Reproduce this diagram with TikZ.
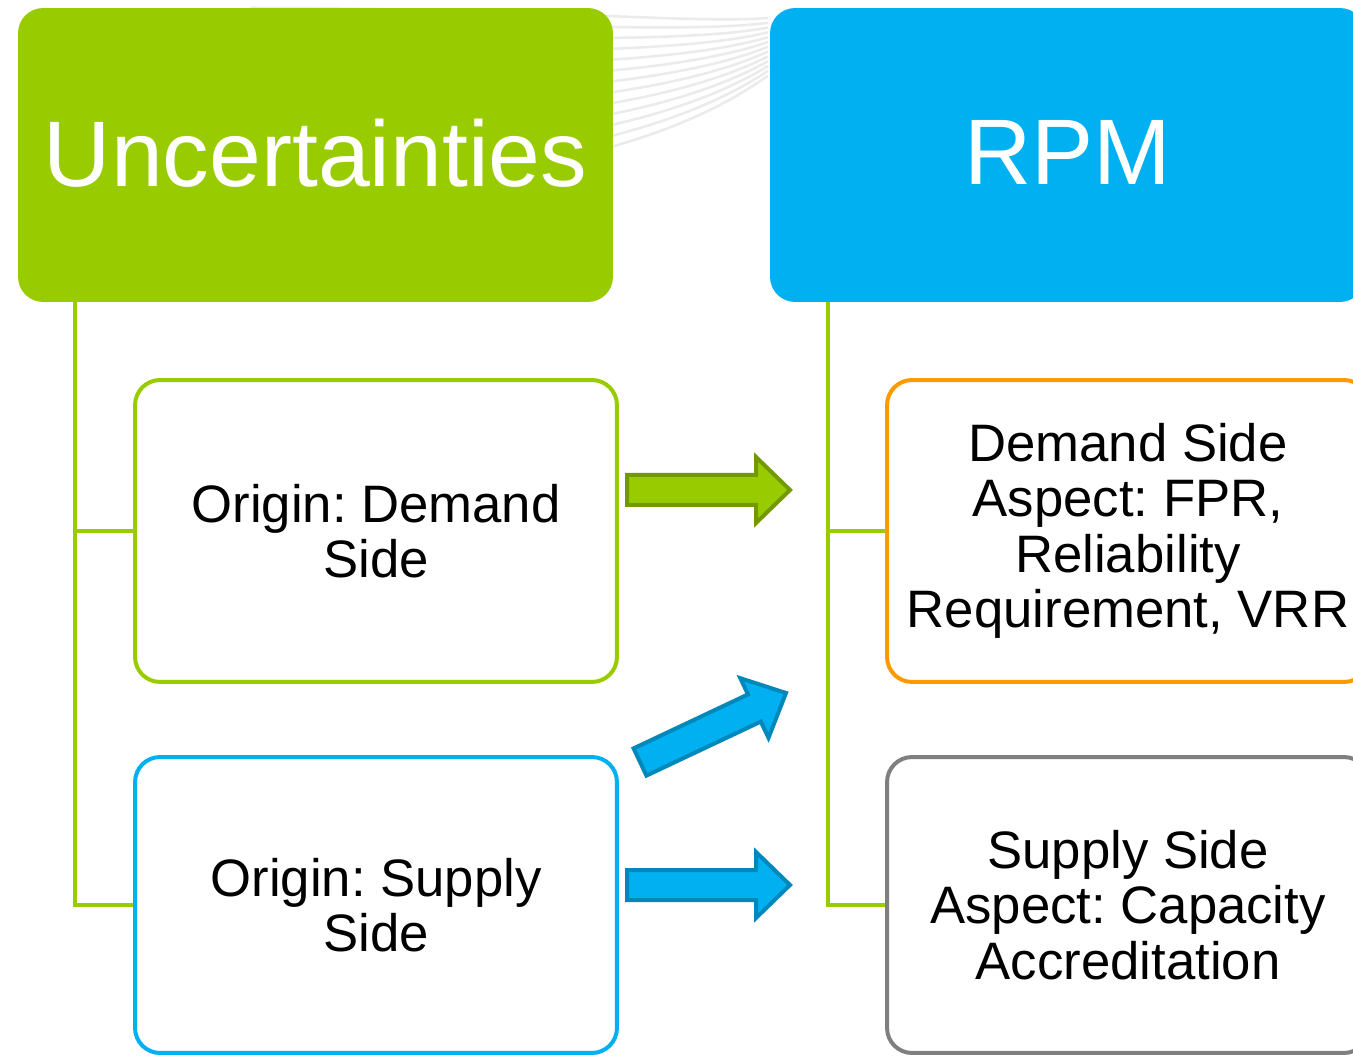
\documentclass[tikz,border=0pt]{standalone}
\usepackage{fontspec}
\setmainfont{Liberation Sans}
\frenchspacing
\usetikzlibrary{positioning}

\definecolor{lime}{HTML}{99CC00}
\definecolor{sky}{HTML}{00B0F0}
\definecolor{amber}{HTML}{FF9900}
\definecolor{slate}{HTML}{7F7F7F}
\definecolor{olive}{HTML}{739900}
\definecolor{deepsky}{HTML}{0088BB}

\tikzset{
	header/.style = {rounded corners=0.5cm, minimum width=11.9cm, minimum height=5.88cm, inner sep=0pt, text=white, font=\fontsize{53}{60}\selectfont},
	box/.style = {draw, line width=0.08cm, rounded corners=0.5cm, fill=white, minimum width=9.64cm, minimum height=6.04cm, inner sep=0pt, align=center, font=\fontsize{30}{31.5}\selectfont},
	branch/.style = {draw=lime, line width=0.09cm},
	bgline/.style = {draw=black!8, line width=0.05cm},
	blockarrow/.style = {line width=0.08cm, line join=miter}
}

\begin{document}
\begin{tikzpicture}[x=0.02cm, y=-0.02cm]
	\clip (0,0) rectangle (1353,1057);
	\fill[white] (0,0) rectangle (1353,1057);
	% faint background lines
	\foreach \i in {0,...,12}
		\draw[bgline] (250,{8+15*\i}) .. controls (540,{8+15*\i}) and (690,{24+9*\i}) .. (768,{18+4.8*\i});
	% headers
	\node[header, fill=lime] (unc) at (315.5,155) {\raisebox{0.1cm}{Uncertainties}};
	\node[header, fill=sky] (rpm) at (1067.5,155) {\raisebox{0.1cm}{RPM}};
	% boxes
	\node[box, draw=lime] (demorig) at (376,531) {Origin: Demand\\Side};
	\node[box, draw=sky, minimum height=5.92cm] (suporig) at (376,905) {Origin: Supply\\Side};
	\node[box, draw=amber] (demasp) at (1128,531) {Demand Side\\Aspect: FPR,\\Reliability\\Requirement, VRR};
	\node[box, draw=slate, minimum height=5.92cm] (supasp) at (1128,905) {Supply Side\\Aspect: Capacity\\Accreditation};
	% tree lines
	\coordinate (ltrunk) at (75,302);
	\coordinate (rtrunk) at (828,302);
	\draw[branch] (ltrunk) |- (demorig.west);
	\draw[branch] (ltrunk) |- (suporig.west);
	\draw[branch] (rtrunk) |- (demasp.west);
	\draw[branch] (rtrunk) |- (supasp.west);
	% block arrows
	\draw[blockarrow, draw=olive, fill=lime] (627,475) -- (756,475) -- (756,457) -- (790,490) -- (756,523) -- (756,505) -- (627,505) -- cycle;
	\draw[blockarrow, draw=deepsky, fill=sky] (627,870) -- (756,870) -- (756,852) -- (790,885) -- (756,918) -- (756,900) -- (627,900) -- cycle;
	\draw[blockarrow, draw=deepsky, fill=sky] (646.4,775.6) -- (760.8,721.6) -- (768.5,737.8) -- (786,693) -- (740.3,678.2) -- (748.0,694.4) -- (633.6,748.4) -- cycle;
\end{tikzpicture}
\end{document}
